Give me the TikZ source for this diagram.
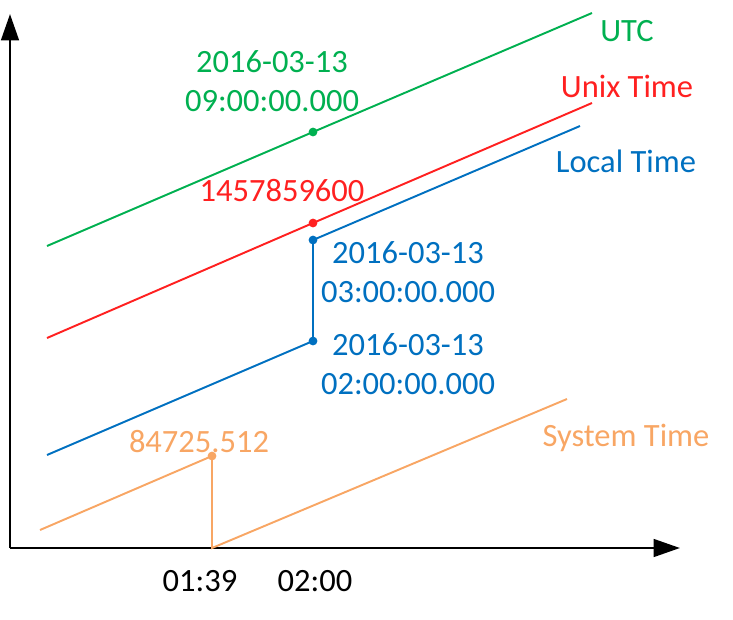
\documentclass[tikz,border=0pt]{standalone}
\usepackage{fontspec}
\setmainfont{Carlito}
\usepackage{xcolor}
\usepackage{tikz}
\usetikzlibrary{arrows.meta}
\definecolor{utcgreen}{RGB}{0,176,80}
\definecolor{unixred}{RGB}{255,32,32}
\definecolor{localblue}{RGB}{0,112,192}
\definecolor{sysorange}{RGB}{248,166,100}
\tikzstyle{axis} = [line width=1.6pt, -{Triangle[length=15pt, width=10pt]}]
\tikzstyle{timeline} = [line width=1.1pt]
\tikzstyle{lbl} = [font=\fontsize{18.5}{22}\selectfont, inner sep=0pt, align=center]
\tikzstyle{dot} = [circle, fill, inner sep=0pt, minimum size=5pt]

\begin{document}
\begin{tikzpicture}[x=0.02cm, y=-0.02cm]
			\useasboundingbox (0,0) rectangle (733,619);
			% axes
			\coordinate (origin) at (10,548);
			\coordinate (ytop) at (10,14);
			\coordinate (xend) at (680,548);
			\draw [axis] (origin) -- (ytop);
			\draw [axis] (origin) -- (xend);
			
			% UTC
			\coordinate (utcA) at (47,246);
			\coordinate (utcB) at (592,13);
			\node (utcDot)[dot, utcgreen] at (313,132) {};
			\draw [timeline, utcgreen] (utcA) -- (utcDot.center) -- (utcB);
			\node (utcName)[lbl, utcgreen] at (627,31) {UTC};
			\node (utcVal)[lbl, utcgreen] at (272,81) {2016-03-13\\09:00:00.000};
			
			% Unix time
			\coordinate (unixA) at (47,338);
			\coordinate (unixB) at (592,103);
			\node (unixDot)[dot, unixred] at (313,223) {};
			\draw [timeline, unixred] (unixA) -- (unixDot.center) -- (unixB);
			\node (unixName)[lbl, unixred] at (627,86) {Unix Time};
			\node (unixVal)[lbl, unixred] at (282,191) {1457859600};
			
			% Local time
			\coordinate (localA) at (47,455);
			\coordinate (localB) at (580,126);
			\node (localLow)[dot, localblue] at (313,341) {};
			\node (localHigh)[dot, localblue] at (313,240) {};
			\draw [timeline, localblue] (localA) -- (localLow.center) -- (localHigh.center) -- (localB);
			\node (localName)[lbl, localblue] at (626,161) {Local Time};
			\node (localAfter)[lbl, localblue] at (408,272) {2016-03-13\\03:00:00.000};
			\node (localBefore)[lbl, localblue] at (408,364) {2016-03-13\\02:00:00.000};
			
			% System time
			\coordinate (sysA) at (40,530);
			\coordinate (sysB) at (567,399);
			\coordinate (sysReset) at (212,548);
			\node (sysDot)[dot, sysorange] at (212,456) {};
			\draw [timeline, sysorange] (sysA) -- (sysDot.center) -- (sysReset) -- (sysB);
			\node (sysName)[lbl, sysorange] at (626,438) {System Time};
			\node (sysVal)[lbl, sysorange] at (199,442) {84725.512};
			
			% ticks
			\node (tickA)[lbl] at (200,581) {01:39};
			\node (tickB)[lbl] at (315,581) {02:00};
		\end{tikzpicture}
\end{document}
